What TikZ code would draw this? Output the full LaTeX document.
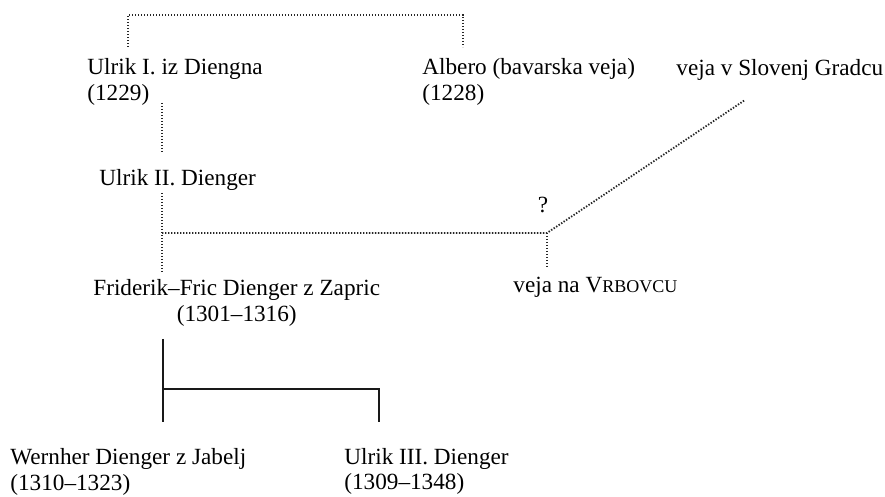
\documentclass[tikz,border=0pt]{standalone}
\usepackage{fontspec}
\setmainfont{Liberation Serif}
\usepackage{tikz}
\usetikzlibrary{positioning}

\begin{document}
\begin{tikzpicture}[x=0.5pt,y=-0.5pt]
\tikzstyle{every node}=[font=\fontsize{11.6}{13}\selectfont, inner sep=0pt, anchor=base west, align=left]
\tikzstyle{dots}=[line width=0.9pt, dash pattern=on 0.7pt off 0.8pt, black!85]
\tikzstyle{bar}=[line width=1pt, black!90]
\useasboundingbox (0,0) rectangle (885,497);
% two-line nodes sit on the baseline of their last line
\node (ulrikI) at (87,101) {Ulrik I. iz Diengna\\(1229)};
\node (albero) at (422,101) {Albero (bavarska veja)\\(1228)};
\node (slovgradec) at (676,76) {veja v Slovenj Gradcu};
\node (ulrikII) at (99,186) {Ulrik II. Dienger};
\node [align=center] (friderik) at (93,322) {Friderik--Fric Dienger z Zapric\\(1301--1316)};
\node (vrbovec) at (513,293) {veja na V{\fontsize{9}{10}\selectfont RBOVCU}};
\node [anchor=base] (query) at (543,213) {?};
\node (wernher) at (10,491) {Wernher Dienger z Jabelj\\(1310--1323)};
\node (ulrikIII) at (344,490) {Ulrik III. Dienger\\(1309--1348)};
\coordinate (topL) at (128,47);
\coordinate (topR) at (463,47);
\coordinate (a1) at (162,103);
\coordinate (a2) at (162,153);
\coordinate (b1) at (162,193);
\coordinate (b2) at (162,272);
\coordinate (fork) at (547,233);
\coordinate (vrbtop) at (547,267);
\coordinate (slovend) at (745,100);
\coordinate (c1) at (163,339);
\coordinate (c2) at (163,422);
\coordinate (split) at (163,389);
\coordinate (c3) at (379,422);
\draw [dots] (topL) -- ++(0,-32) -| (topR);
\draw [dots] (a1) -- (a2);
\draw [dots] (b1) -- (b2);
\draw [dots] (b1 |- fork) -- (fork) -- (slovend);
\draw [dots] (fork) -- (vrbtop);
\draw [bar] (c1) -- (c2);
\draw [bar] (split) -| (c3);
\end{tikzpicture}
\end{document}
